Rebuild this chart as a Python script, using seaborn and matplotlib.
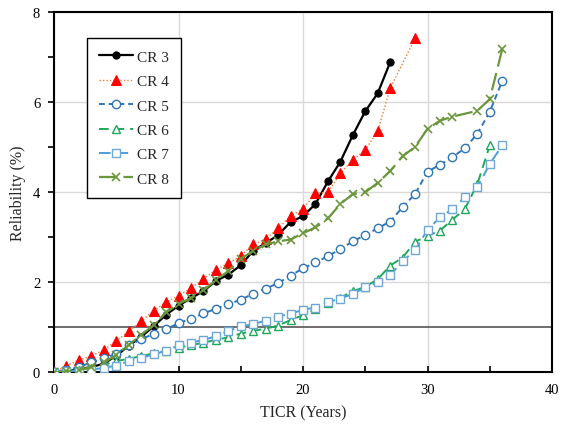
import numpy as np
import pandas as pd
import matplotlib
matplotlib.use("Agg")
import matplotlib.pyplot as plt
from matplotlib.ticker import MultipleLocator
import seaborn as sns

# Reliability (%) versus TICR (years) for each CR group
cr3_x = list(range(0, 28))
cr3_y = [0, 0.03, 0.07, 0.12, 0.19, 0.37, 0.59, 0.79, 1.02, 1.28, 1.48, 1.65, 1.8, 2.03,
         2.17, 2.38, 2.7, 2.87, 3.05, 3.34, 3.47, 3.74, 4.24, 4.68, 5.27, 5.8, 6.2, 6.89]

cr4_x = list(range(0, 28)) + [29]
cr4_y = [0, 0.15, 0.27, 0.36, 0.5, 0.7, 0.91, 1.13, 1.37, 1.56, 1.7, 1.87, 2.07, 2.28,
         2.42, 2.59, 2.84, 2.96, 3.2, 3.47, 3.63, 3.98, 4.0, 4.42, 4.72, 4.94, 5.36, 6.31, 7.42]

cr5_x = list(range(0, 37))
cr5_y = [0, 0.05, 0.12, 0.22, 0.31, 0.41, 0.6, 0.73, 0.86, 0.96, 1.09, 1.19, 1.31, 1.41,
         1.52, 1.61, 1.75, 1.86, 1.98, 2.15, 2.31, 2.44, 2.58, 2.74, 2.91, 3.05, 3.2, 3.35,
         3.67, 3.96, 4.46, 4.61, 4.78, 4.98, 5.3, 5.79, 6.47]

cr6_x = list(range(0, 36))
cr6_y = [0, 0.02, 0.06, 0.1, 0.17, 0.25, 0.3, 0.36, 0.42, 0.48, 0.55, 0.6, 0.66, 0.72,
         0.78, 0.86, 0.92, 0.97, 1.04, 1.16, 1.27, 1.4, 1.55, 1.66, 1.8, 1.9, 2.07, 2.37,
         2.55, 2.9, 3.03, 3.15, 3.39, 3.63, 4.18, 5.04]

cr7_x = list(range(0, 37))
cr7_y = [0, 0.02, 0.04, 0.06, 0.1, 0.15, 0.25, 0.32, 0.4, 0.48, 0.6, 0.66, 0.72, 0.8,
         0.92, 1.02, 1.07, 1.15, 1.24, 1.3, 1.39, 1.44, 1.56, 1.64, 1.74, 1.89, 2.0, 2.16,
         2.47, 2.71, 3.17, 3.44, 3.63, 3.89, 4.11, 4.63, 5.04]

cr8_x = list(range(0, 33)) + [34, 35, 36]
cr8_y = [0, 0.02, 0.05, 0.12, 0.22, 0.38, 0.61, 0.83, 1.05, 1.33, 1.52, 1.65, 1.82, 2.05,
         2.25, 2.52, 2.7, 2.84, 2.91, 2.95, 3.09, 3.22, 3.42, 3.74, 3.96, 4.0, 4.21, 4.47,
         4.8, 5.01, 5.41, 5.59, 5.68, 5.81, 6.07, 7.18]

labels = ["CR 3", "CR 4", "CR 5", "CR 6", "CR 7", "CR 8"]
threshold = 1.0

sns.set_style("white")
plt.rcParams["font.family"] = ["Liberation Serif", "DejaVu Serif"]

fig = plt.figure(figsize=(5.61, 4.27), dpi=100)
ax = fig.add_axes([0.0963, 0.1257, 0.8877, 0.8433])

styles = [
    dict(x=cr3_x, y=cr3_y, color="black", linestyle="-", linewidth=1.6, marker="o",
         markersize=5.2, markerfacecolor="black", markeredgecolor="black"),
    dict(x=cr4_x, y=cr4_y, color="#ED7D31", linestyle=(0, (1, 1.5)), linewidth=1.0,
         marker="^", markersize=7.2, markerfacecolor="#FF0000", markeredgecolor="#FF0000"),
    dict(x=cr5_x, y=cr5_y, color="#2E75B6", linestyle=(0, (3, 2)), linewidth=1.4,
         marker="o", markersize=6.0, markerfacecolor="white", markeredgecolor="#2E75B6",
         markeredgewidth=1.0),
    dict(x=cr6_x, y=cr6_y, color="#1FA85A", linestyle=(0, (5, 3)), linewidth=1.4,
         marker="^", markersize=6.0, markerfacecolor="white", markeredgecolor="#1FA85A",
         markeredgewidth=1.0),
    dict(x=cr7_x, y=cr7_y, color="#4AA0D8", linestyle=(0, (6, 3)), linewidth=1.4,
         marker="s", markersize=6.0, markerfacecolor="white", markeredgecolor="#6FA8D8",
         markeredgewidth=1.0),
    dict(x=cr8_x, y=cr8_y, color="#6A963C", linestyle=(0, (8, 3)), linewidth=1.6,
         marker="x", markersize=5.2, markeredgecolor="#6A963C", markeredgewidth=1.2),
]

for lab, st in zip(labels, styles):
    st = dict(st)
    x = st.pop("x")
    y = st.pop("y")
    sns.lineplot(x=x, y=y, ax=ax, label=lab, sort=False, zorder=3, **st)

ax.axhline(threshold, color="#555555", linewidth=1.2, zorder=2)

ax.set_xlim(0, 40)
ax.set_ylim(0, 8)
ax.xaxis.set_major_locator(MultipleLocator(10))
ax.xaxis.set_minor_locator(MultipleLocator(5))
ax.yaxis.set_major_locator(MultipleLocator(2))
ax.yaxis.set_minor_locator(MultipleLocator(1))
ax.grid(True, which="major", color="#D9D9D9", linewidth=1.0, zorder=0)
ax.set_axisbelow(True)

for side in ["top", "right", "bottom", "left"]:
    ax.spines[side].set_visible(True)
    ax.spines[side].set_color("black")
    ax.spines[side].set_linewidth(1.5)

ax.tick_params(axis="x", which="both", direction="in", length=4, width=1.2,
               colors="black", labelsize=10.5, pad=8, bottom=True)
ax.tick_params(axis="y", which="both", direction="out", length=4, width=1.2,
               colors="black", labelsize=10.5, pad=6, left=True)

ax.set_xlabel("TICR (Years)", fontsize=11.5, labelpad=6)
ax.set_ylabel("Reliability (%)", fontsize=11.5, labelpad=5)

leg = ax.legend(loc="upper left", bbox_to_anchor=(0.155, 0.909),
                bbox_transform=fig.transFigure, frameon=True, fancybox=False,
                framealpha=1, edgecolor="black", fontsize=11, labelspacing=0.7,
                handlelength=2.2, handletextpad=0.3, borderpad=0.8, borderaxespad=0)
leg.get_frame().set_linewidth(1.0)

fig.savefig("out.png", dpi=100)
